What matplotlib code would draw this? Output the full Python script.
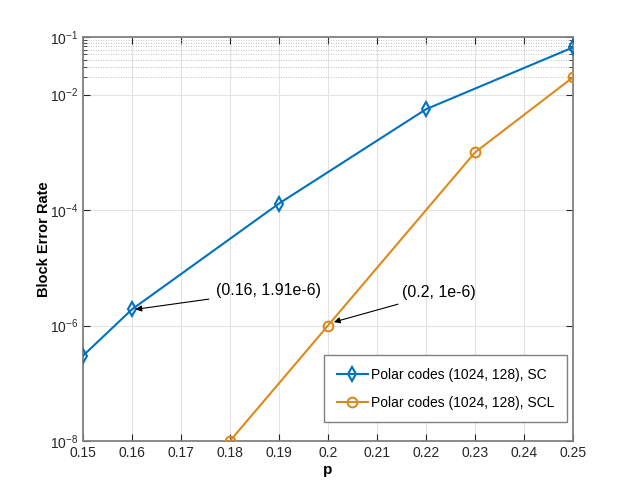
import numpy as np
import matplotlib
matplotlib.use('Agg')
import matplotlib.pyplot as plt
from matplotlib.ticker import FixedLocator, NullFormatter

plt.rcParams['font.family'] = ['Liberation Sans', 'DejaVu Sans']
plt.rcParams['mathtext.default'] = 'regular'

# data
p_sc = [0.15, 0.16, 0.19, 0.22, 0.25]
bler_sc = [3.0e-7, 1.91e-6, 1.3e-4, 5.6e-3, 6.6e-2]
p_scl = [0.18, 0.20, 0.23, 0.25]
bler_scl = [1e-8, 1e-6, 1.0e-3, 2.0e-2]
xticks = [0.15, 0.16, 0.17, 0.18, 0.19, 0.20, 0.21, 0.22, 0.23, 0.24, 0.25]
xticklabels = ['0.15', '0.16', '0.17', '0.18', '0.19', '0.2', '0.21', '0.22', '0.23', '0.24', '0.25']
yticks = [1e-8, 1e-6, 1e-4, 1e-2, 1e-1]
yticklabels = ['$10^{-8}$', '$10^{-6}$', '$10^{-4}$', '$10^{-2}$', '$10^{-1}$']
yminor = [2e-2, 3e-2, 4e-2, 5e-2, 6e-2, 7e-2, 8e-2, 9e-2]

blue = '#0072BD'
orange = '#DC8A1C'

fig = plt.figure(figsize=(6.33, 4.95), dpi=100)
ax = fig.add_axes([0.1311, 0.1091, 0.7741, 0.8162])

ax.semilogy(p_sc, bler_sc, color=blue, lw=1.5, marker='d', ms=7, mfc='none',
            mew=1.5, label='Polar codes (1024, 128), SC', zorder=3)
ax.semilogy(p_scl, bler_scl, color=orange, lw=1.5, marker='o', ms=7, mfc='none',
            mew=1.5, label='Polar codes (1024, 128), SCL', zorder=3)

ax.set_xlim(0.15, 0.25)
ax.set_ylim(1e-8, 1e-1)
ax.set_xticks(xticks)
ax.set_xticklabels(xticklabels)
ax.yaxis.set_major_locator(FixedLocator(yticks))
ax.set_yticklabels(yticklabels)
ax.yaxis.set_minor_locator(FixedLocator(yminor))
ax.yaxis.set_minor_formatter(NullFormatter())

ax.grid(True, which='major', color='#e3e3e3', lw=0.8, ls='-')
ax.grid(True, which='minor', axis='y', color='#b0b0b0', lw=0.6, ls=(0, (1, 2)))
ax.set_axisbelow(True)

for s in ax.spines.values():
    s.set_color('#808080')
    s.set_linewidth(1.3)
ax.tick_params(which='both', direction='in', top=True, right=True,
               colors='#262626', labelsize=10)
ax.tick_params(which='major', length=5, width=0.8, color='#262626')
ax.tick_params(which='minor', length=3, width=0.6, color='#262626')

ax.set_xlabel('p', fontsize=11, fontweight='bold', labelpad=2)
ax.set_ylabel('Block Error Rate', fontsize=10.5, fontweight='bold', labelpad=-1)

# text arrows
ax.annotate('(0.16, 1.91e-6)', xy=(0.1607, 1.91e-6), xytext=(0.1771, 4.0e-6),
            fontsize=11.5, va='center', ha='left',
            arrowprops=dict(arrowstyle='-|>', color='black', lw=0.8,
                            mutation_scale=9, shrinkA=3, shrinkB=0))
ax.annotate('(0.2, 1e-6)', xy=(0.2012, 1.15e-6), xytext=(0.2151, 3.7e-6),
            fontsize=11.5, va='center', ha='left',
            arrowprops=dict(arrowstyle='-|>', color='black', lw=0.8,
                            mutation_scale=9, shrinkA=3, shrinkB=0))

leg = ax.legend(loc='lower right', bbox_to_anchor=(0.988, 0.047), fontsize=10,
                fancybox=False, framealpha=1, edgecolor='#808080',
                handlelength=2.3, handletextpad=0.2, labelspacing=1.0,
                borderpad=0.9, borderaxespad=0)
leg.get_frame().set_linewidth(1.0)

fig.savefig('out.png', dpi=100)
